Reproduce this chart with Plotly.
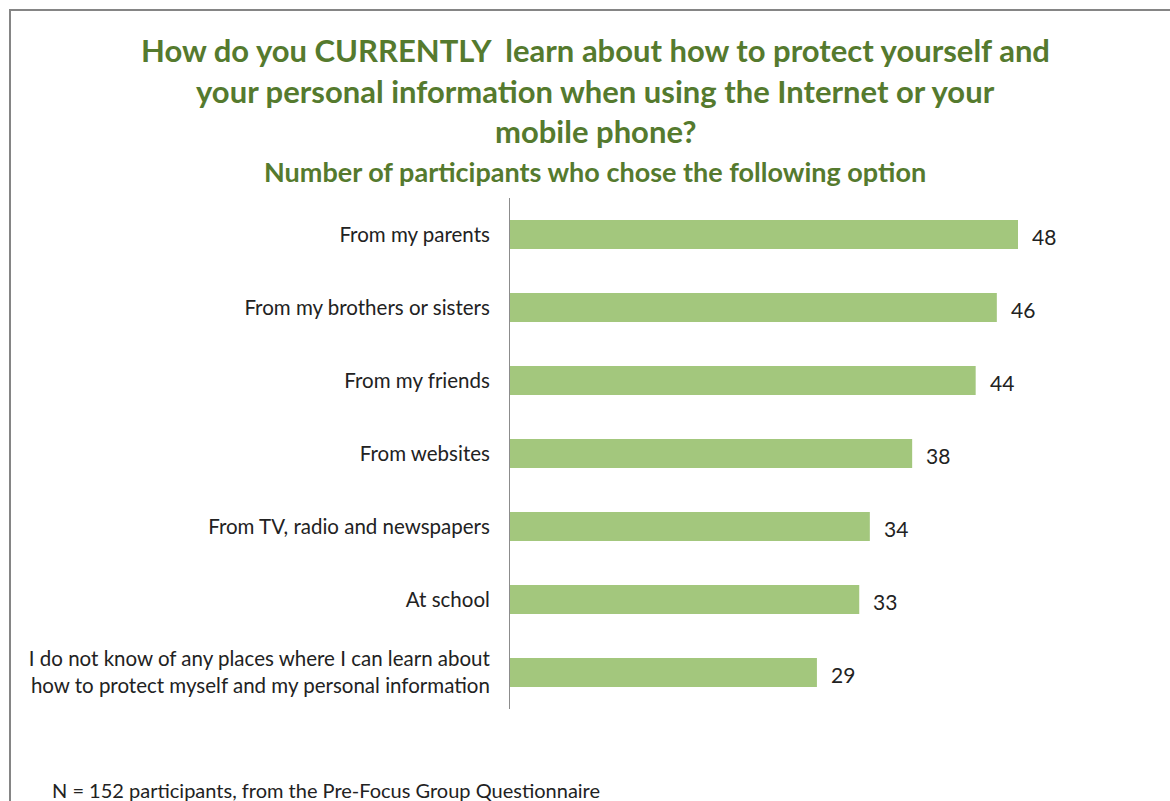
import plotly.graph_objects as go

categories = [
    "From my parents",
    "From my brothers or sisters",
    "From my friends",
    "From websites",
    "From TV, radio and newspapers",
    "At school",
    "I do not know of any places where I can learn about<br>how to protect myself and my personal information",
]
values = [48, 46, 44, 38, 34, 33, 29]

W, H = 1170, 801
FONT = "Lato, 'Open Sans', sans-serif"
GREEN = "#557a2e"
BAR = "#a3c77d"

fig = go.Figure()
fig.add_trace(go.Bar(
    x=values, y=categories, orientation="h",
    marker=dict(color=BAR, line=dict(width=0)),
    hoverinfo="x+y", showlegend=False,
))

for v, c in zip(values, categories):
    fig.add_annotation(x=v, y=c, xref="x", yref="y", text=str(v),
                       showarrow=False, xanchor="left", xshift=12, yshift=-2,
                       font=dict(family=FONT, size=21, color="#222222"))

def px_x(p):
    return p / W

def px_y(p):
    return 1 - p / H

titles = [
    ("How do you CURRENTLY\u00a0 learn about how to protect yourself and", 50, 31),
    ("your personal information when using the Internet or your", 91, 31),
    ("mobile phone?", 131, 31),
    ("Number of participants who chose the following option", 172, 27),
]
for t, yy, sz in titles:
    fig.add_annotation(x=px_x(595), y=px_y(yy), xref="paper", yref="paper",
                       text=f"<b>{t}</b>", showarrow=False, xanchor="center", yanchor="middle",
                       font=dict(family=FONT, size=sz, color=GREEN))

fig.add_annotation(x=px_x(50), y=px_y(790), xref="paper", yref="paper",
                   text="N = 152 participants, from the Pre-Focus Group Questionnaire",
                   showarrow=False, xanchor="left", yanchor="middle",
                   font=dict(family=FONT, size=20, color="#222222"))

fig.add_shape(type="rect", xref="paper", yref="paper",
              x0=px_x(10), x1=px_x(1200), y0=px_y(10), y1=px_y(840),
              line=dict(color="#858585", width=2), fillcolor="rgba(0,0,0,0)", layer="below")

fig.update_layout(
    width=W, height=H,
    margin=dict(l=0, r=0, t=0, b=0),
    paper_bgcolor="white", plot_bgcolor="white",
    bargap=0.6,
    font=dict(family=FONT, size=20, color="#222222"),
    xaxis=dict(domain=[px_x(510), px_x(1145)], range=[0, 60], visible=False,
               showgrid=False, zeroline=False),
    yaxis=dict(domain=[px_y(709), px_y(198)], range=[6.5, -0.5], autorange=False,
               showgrid=False, zeroline=False, showline=True, linecolor="#8c8c8c", linewidth=1,
               ticks="", ticklabelstandoff=15,
               tickfont=dict(family=FONT, size=20.5, color="#222222")),
)

fig.write_html("out.html")
